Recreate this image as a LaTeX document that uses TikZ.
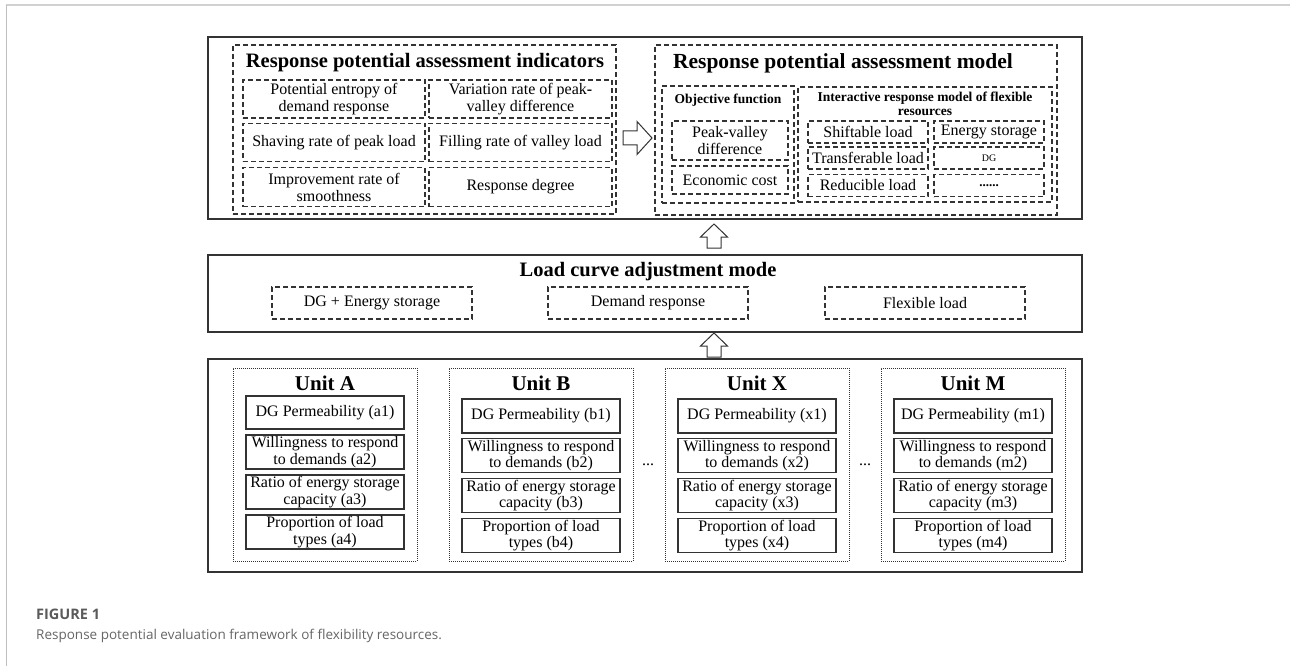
\documentclass[tikz,border=0pt]{standalone}
\usepackage{fontspec}
\setmainfont{Liberation Serif}
\newfontfamily\capfont{Open Sans}
\definecolor{capgray}{HTML}{5A5A5A}
\definecolor{linegray}{HTML}{333333}
\tikzset{
  solidbox/.style={draw=linegray, line width=1.3pt, inner sep=0pt},
  dbox/.style={draw=linegray, line width=1.1pt, dash pattern=on 5pt off 3pt, inner sep=0pt, align=center, font=\fontsize{16}{17}\selectfont},
  ubox/.style={draw=linegray, line width=1.1pt, inner sep=0pt, align=center, font=\fontsize{16}{16.5}\selectfont},
  dotbox/.style={draw=linegray, line width=0.8pt, dash pattern=on 1pt off 1pt, inner sep=0pt},
  bigtitle/.style={font=\fontsize{20.5}{24}\selectfont\bfseries, inner sep=0pt},
  unittitle/.style={font=\fontsize{21}{24}\selectfont\bfseries, inner sep=0pt},
  smalltitle/.style={font=\fontsize{13.5}{14}\selectfont\bfseries, inner sep=0pt, align=center},
  plain/.style={inner sep=0pt, font=\fontsize{16}{17}\selectfont},
  blockarrow/.style={draw=linegray, line width=1pt, fill=white},
  uparrow/.pic={\draw[blockarrow] (-7,0) -- (-7,-11) -- (-13.5,-11) -- (0,-24) -- (13.5,-11) -- (7,-11) -- (7,0) -- cycle;},
  rightarrow/.pic={\draw[blockarrow] (0,-7) -- (14,-7) -- (14,-16.5) -- (29,0) -- (14,16.5) -- (14,7) -- (0,7) -- cycle;},
}
\begin{document}
\begin{tikzpicture}[x=1pt,y=-1pt]
\useasboundingbox (0,0) rectangle (1290,666);
% page frame
\draw[draw=black!18, line width=2pt] (6,5) -- (1290,5);
\draw[draw=black!25, line width=1pt] (6,5) -- (6,666);

% ---------- top box ----------
\node[solidbox, minimum width=874, minimum height=182] (top) at (645,128) {};
% indicators
\node[dbox, minimum width=383, minimum height=169] (ind) at (424.5,129.5) {};
\node[bigtitle] (indT) at (425,63) {Response potential assessment indicators};
\node[dbox, minimum width=182, minimum height=38] (i1) at (334,99) {Potential entropy of\\demand response};
\node[dbox, minimum width=183, minimum height=38] (i2) at (520.5,99) {Variation rate of peak{\bfseries -}\\valley difference};
\node[dbox, minimum width=182, minimum height=38] (i3) at (334,142.5) {Shaving rate of peak load};
\node[dbox, minimum width=183, minimum height=38] (i4) at (520.5,142.5) {Filling rate of valley load};
\node[dbox, minimum width=182, minimum height=39] (i5) at (334,187) {Improvement rate of\\smoothness};
\node[dbox, minimum width=183, minimum height=39] (i6) at (520.5,187) {Response degree};
% model
\node[dbox, minimum width=402, minimum height=170] (mod) at (856,130) {};
\node[bigtitle, font=\fontsize{21.5}{24}\selectfont\bfseries] (modT) at (843,63) {Response potential assessment model};
\node[dbox, minimum width=132, minimum height=117] (obj) at (728,144.5) {};
\node[smalltitle] (objT) at (728,100) {Objective function};
\node[dbox, minimum width=116, minimum height=39] (pv) at (730,140.5) {Peak{\bfseries -}valley\\difference};
\node[dbox, minimum width=116, minimum height=28] (ec) at (730,180) {Economic cost};
\node[dbox, minimum width=254, minimum height=115] (irm) at (925,144.5) {};
\node[smalltitle] (irmT) at (925,104) {Interactive response model of flexible\\resources};
\node[dbox, minimum width=120, minimum height=22] (r1) at (868,132) {Shiftable load};
\node[dbox, minimum width=110, minimum height=22] (e1) at (989,132) {Energy storage};
\node[dbox, minimum width=120, minimum height=22] (r2) at (868,158) {Transferable load};
\node[dbox, minimum width=110, minimum height=22, font=\fontsize{10}{11}\selectfont] (e2) at (989,158) {DG};
\node[dbox, minimum width=120, minimum height=22] (r3) at (868,185.5) {Reducible load};
\node[dbox, minimum width=110, minimum height=22, font=\fontsize{13}{14}\selectfont\bfseries] (e3) at (989,185.5) {......};
\pic at (623,138) {rightarrow};

% ---------- middle box ----------
\node[solidbox, minimum width=874, minimum height=77] (mid) at (645,293.5) {};
\node[bigtitle] (midT) at (648,272) {Load curve adjustment mode};
\node[dbox, minimum width=200, minimum height=32] (m1) at (372,303) {DG + Energy storage};
\node[dbox, minimum width=200, minimum height=32] (m2) at (648,303) {Demand response};
\node[dbox, minimum width=200, minimum height=32] (m3) at (925,303) {Flexible load};
\pic at (714,248) {uparrow};

% ---------- bottom box ----------
\node[solidbox, minimum width=874, minimum height=213] (bot) at (645,465.5) {};
\pic at (714,357) {uparrow};

% Unit A
\node[dotbox, minimum width=184, minimum height=193] (uA) at (325,464.5) {};
\node[unittitle] (uAT) at (325,383) {Unit A};
\node[ubox, minimum width=158, minimum height=33] (a1) at (325,412.5) {DG Permeability (a1)};
\node[ubox, minimum width=158, minimum height=34] (a2) at (325,452) {Willingness to respond\\to demands (a2)};
\node[ubox, minimum width=158, minimum height=34] (a3) at (325,492) {Ratio of energy storage\\capacity (a3)};
\node[ubox, minimum width=158, minimum height=34] (a4) at (325,532) {Proportion of load\\types (a4)};
% Unit B
\node[dotbox, minimum width=184, minimum height=193] (uB) at (541,464.5) {};
\node[unittitle] (uBT) at (541,383) {Unit B};
\node[ubox, minimum width=158, minimum height=34] (b1) at (541,416) {DG Permeability (b1)};
\node[ubox, minimum width=158, minimum height=34] (b2) at (541,455.5) {Willingness to respond\\to demands (b2)};
\node[ubox, minimum width=158, minimum height=34] (b3) at (541,495.5) {Ratio of energy storage\\capacity (b3)};
\node[ubox, minimum width=158, minimum height=34] (b4) at (541,535.5) {Proportion of load\\types (b4)};
% dots
\node[plain] (d1) at (648,465) {...};
% Unit X
\node[dotbox, minimum width=184, minimum height=193] (uX) at (757,464.5) {};
\node[unittitle] (uXT) at (757,383) {Unit X};
\node[ubox, minimum width=158, minimum height=34] (x1) at (757,416) {DG Permeability (x1)};
\node[ubox, minimum width=158, minimum height=34] (x2) at (757,455.5) {Willingness to respond\\to demands (x2)};
\node[ubox, minimum width=158, minimum height=34] (x3) at (757,495.5) {Ratio of energy storage\\capacity (x3)};
\node[ubox, minimum width=158, minimum height=34] (x4) at (757,535.5) {Proportion of load\\types (x4)};
% dots
\node[plain] (d2) at (865,465) {...};
% Unit M
\node[dotbox, minimum width=184, minimum height=193] (uM) at (973,464.5) {};
\node[unittitle] (uMT) at (973,383) {Unit M};
\node[ubox, minimum width=158, minimum height=34] (n1) at (973,416) {DG Permeability (m1)};
\node[ubox, minimum width=158, minimum height=34] (n2) at (973,455.5) {Willingness to respond\\to demands (m2)};
\node[ubox, minimum width=158, minimum height=34] (n3) at (973,495.5) {Ratio of energy storage\\capacity (m3)};
\node[ubox, minimum width=158, minimum height=34] (n4) at (973,535.5) {Proportion of load\\types (m4)};

% ---------- caption ----------
\node[anchor=west, inner sep=0pt, text=capgray, font=\capfont\fontsize{14.5}{16}\selectfont\bfseries] (figl) at (36,614) {FIGURE 1};
\node[anchor=west, inner sep=0pt, text=black!60, font=\capfont\fontsize{13.5}{16}\selectfont] (cap) at (36,636) {Response potential evaluation framework of flexibility resources.};
\end{tikzpicture}
\end{document}
